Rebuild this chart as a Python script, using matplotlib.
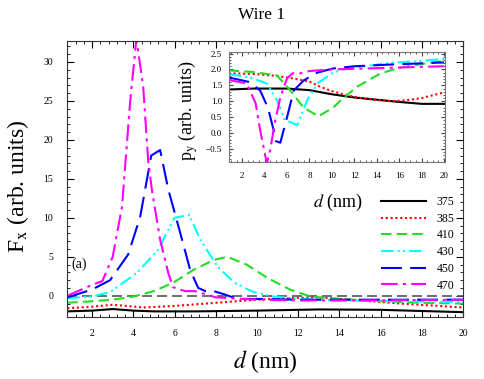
import matplotlib
matplotlib.use("Agg")
import matplotlib.pyplot as plt
from matplotlib.ticker import AutoMinorLocator, MultipleLocator

plt.rcParams['font.family'] = ['Liberation Serif', 'DejaVu Serif']
plt.rcParams['mathtext.fontset'] = 'stix'

labels = ['375', '385', '410', '430', '450', '470']
colors = ['black', 'red', '#22dd22', 'cyan', 'blue', 'magenta']
styles = ['-', (0, (1, 1.3)), (0, (5, 2.5)), (0, (6, 2, 1, 1.5, 1, 2)), (0, (10, 4)), (0, (8, 2.5, 1.5, 2.5))]

# main panel: F_x vs d
d375 = [0.8, 2, 3, 4, 5, 7, 10, 13, 16, 18, 20]
f375 = [-2.0, -1.9, -1.7, -1.9, -2.0, -2.0, -1.9, -1.75, -1.8, -1.95, -2.1]
d385 = [0.8, 2, 3, 4.5, 6, 8, 10, 12, 13, 15, 17, 20]
f385 = [-1.6, -1.4, -1.15, -1.5, -1.3, -0.9, -0.5, -0.25, -0.2, -0.6, -1.0, -1.5]
d410 = [0.8, 2, 3, 4, 5, 5.95, 6.9, 7.9, 8.56, 9.5, 10.5, 11.6, 12.6, 14, 16, 18, 20]
f410 = [-0.9, -0.7, -0.5, -0.1, 0.6, 1.7, 3.3, 4.6, 5.0, 4.0, 2.3, 0.8, -0.1, -0.4, -0.7, -0.9, -1.0]
d430 = [0.8, 2, 2.9, 4.2, 5.2, 6.0, 6.7, 7.25, 8.1, 8.9, 9.8, 10.8, 12, 14, 17, 20]
f430 = [-0.3, -0.1, 0.5, 3.0, 5.9, 10.0, 10.4, 7.2, 3.7, 1.7, 0.5, -0.1, -0.4, -0.6, -0.7, -0.8]
d450 = [0.8, 2, 2.87, 3.75, 4.33, 4.57, 4.87, 5.3, 5.7, 6.2, 6.76, 7.15, 7.5, 7.9, 8.4, 9.05, 10, 12, 15, 20]
f450 = [-0.2, 0.8, 2.0, 5.3, 10.1, 13.6, 18.0, 18.7, 13.6, 8.8, 3.3, 1.0, 0.6, 0.6, 0.2, -0.4, -0.4, -0.5, -0.5, -0.5]
d470 = [0.8, 2, 2.5, 3.0, 3.45, 3.85, 4.15, 4.48, 4.72, 4.9, 5.3, 5.7, 5.93, 6.5, 7.0, 8, 10, 12, 15, 20]
f470 = [0.0, 1.4, 1.9, 5.0, 11.4, 25.0, 33.0, 26.8, 17.4, 13.6, 7.2, 2.9, 1.1, 0.6, 0.6, -0.2, -0.5, -0.6, -0.6, -0.5]

# inset: p_y vs d
x375 = [0.8, 3, 6, 8, 10, 12, 14, 16, 18, 20]
p375 = [1.37, 1.4, 1.4, 1.35, 1.22, 1.12, 1.05, 0.98, 0.92, 0.92]
x385 = [0.8, 3, 5, 6.5, 8, 9, 10, 11, 12, 13, 14, 15.3, 16.5, 18, 20]
p385 = [1.88, 1.86, 1.8, 1.72, 1.62, 1.45, 1.32, 1.22, 1.14, 1.08, 1.04, 1.0, 1.03, 1.1, 1.28]
x410 = [0.8, 3, 5.1, 6.3, 7.45, 8.8, 10.1, 10.7, 12.2, 14.3, 16, 18, 20]
p410 = [1.97, 1.92, 1.81, 1.34, 0.81, 0.53, 0.8, 1.0, 1.45, 1.87, 2.05, 2.17, 2.27]
x430 = [0.8, 2.7, 4.2, 5.1, 5.8, 6.3, 6.9, 7.8, 8.7, 10.1, 11, 13, 15, 18, 20]
p430 = [1.85, 1.75, 1.56, 1.03, 0.4, 0.35, 0.25, 1.03, 1.56, 1.9, 2.0, 2.1, 2.2, 2.27, 2.33]
x450 = [0.8, 2.7, 3.6, 4.3, 4.8, 5.0, 5.4, 6.0, 6.6, 7.5, 8.7, 10.1, 12, 15, 20]
p450 = [1.75, 1.6, 1.34, 0.8, 0.1, -0.25, -0.3, 0.5, 1.34, 1.66, 1.9, 2.03, 2.1, 2.15, 2.22]
x470 = [0.8, 2.4, 3.2, 3.6, 4.0, 4.2, 4.5, 4.9, 5.4, 6.0, 6.5, 7.2, 8, 10, 15, 20]
p470 = [1.67, 1.56, 0.94, 0.1, -0.6, -0.95, -0.53, 0.31, 1.12, 1.72, 1.88, 1.88, 1.95, 2.0, 2.05, 2.1]

main_d = [d375, d385, d410, d430, d450, d470]
main_f = [f375, f385, f410, f430, f450, f470]
ins_d = [x375, x385, x410, x430, x450, x470]
ins_p = [p375, p385, p410, p430, p450, p470]

fig = plt.figure(figsize=(4.85, 3.79), dpi=100)
ax = fig.add_axes([0.138, 0.164, 0.817, 0.728])

ax.axhline(0, color='#555555', lw=1.2, ls=(0, (6, 3)))
for x, y, c, s, lab in zip(main_d, main_f, colors, styles, labels):
    ax.plot(x, y, color=c, ls=s, lw=1.5, label=lab)

ax.set_xlim(0.78, 20)
ax.set_ylim(-2.7, 32.7)
ax.xaxis.set_major_locator(MultipleLocator(2))
ax.yaxis.set_major_locator(MultipleLocator(5))
ax.xaxis.set_minor_locator(AutoMinorLocator(5))
ax.yaxis.set_minor_locator(AutoMinorLocator(5))
ax.tick_params(which='both', direction='in', top=True, right=True, labelsize=7)
ax.tick_params(axis='x', which='both', pad=9)
ax.tick_params(axis='y', which='both', pad=10)
ax.tick_params(which='major', length=5)
ax.tick_params(which='minor', length=2.5)
for sp in ax.spines.values():
    sp.set_color('#333333')

ax.set_xlabel('$d$ (nm)', fontsize=17, labelpad=7)
fig.text(18 / 485, 1 - 186 / 379, 'F$_\\mathrm{x}$ (arb. units)', fontsize=17,
         rotation=90, ha='center', va='center')
fig.text(262 / 485, 1 - 15 / 379, 'Wire 1', fontsize=12.5, ha='center', va='center')
ax.text(1.0, 4.0, '(a)', fontsize=10, ha='left', va='center')

leg = ax.legend(loc='upper left', bbox_to_anchor=(381 / 485, 1 - 196 / 379),
                bbox_transform=fig.transFigure, frameon=False, fontsize=8.5,
                handlelength=3.8, handletextpad=0.9, labelspacing=0.4,
                borderpad=0, borderaxespad=0)
fig.text(313 / 485, 1 - 202 / 379, '$d$ (nm)', fontsize=13, ha='left', va='center')

# inset
ins = fig.add_axes([0.472, 0.573, 0.446, 0.290])
for x, y, c, s in zip(ins_d, ins_p, colors, styles):
    ins.plot(x, y, color=c, ls=s, lw=1.5)
ins.set_xlim(0.82, 20.1)
ins.set_ylim(-0.9, 2.55)
ins.xaxis.set_major_locator(MultipleLocator(2))
ins.yaxis.set_major_locator(MultipleLocator(0.5))
ins.xaxis.set_minor_locator(AutoMinorLocator(4))
ins.yaxis.set_minor_locator(AutoMinorLocator(5))
ins.tick_params(which='both', direction='in', top=True, right=True, labelsize=6.5, colors='#444444',
                labelcolor='black')
ins.tick_params(which='major', length=3)
ins.tick_params(which='minor', length=1.5)
ins.tick_params(axis='x', pad=7)
ins.tick_params(axis='y', pad=5)
for sp in ins.spines.values():
    sp.set_color('#777777')
fig.text(188 / 485, 1 - 110 / 379, 'p$_\\mathrm{y}$ (arb. units)', fontsize=13,
         rotation=90, ha='center', va='center')

fig.savefig('out.png', dpi=100)
plt.close(fig)
